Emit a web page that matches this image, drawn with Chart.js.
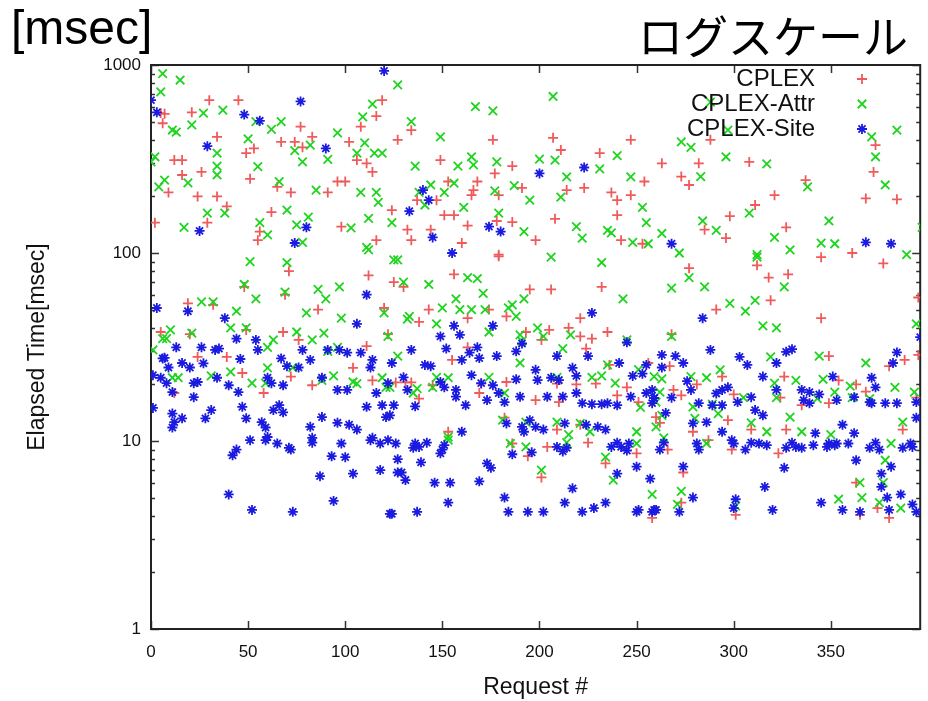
<!DOCTYPE html>
<html>
<head>
<meta charset="utf-8">
<script src="https://cdn.jsdelivr.net/npm/chart.js@4"></script>
<style>
  html, body { margin: 0; padding: 0; background: #fff; }
  #wrap { position: relative; width: 928px; height: 701px; }
  #unit { position: absolute; left: 11px; top: 0px; font: 48px "Liberation Sans", Arial, sans-serif; color: #000; }
  #scale { position: absolute; left: 638px; top: 2px; font: 45px "Noto Sans CJK JP", sans-serif; color: #000; }
</style>
</head>
<body>
<div id="wrap">
  <canvas id="grafico" width="928" height="701"></canvas>
  <div id="unit">[msec]</div>
  <div id="scale">ログスケール</div>
</div>
<script>
// series names and colours (gnuplot defaults)
const seriesNames = ["CPLEX", "CPLEX-Attr", "CPLEX-Site"];
const seriesColors = ["#f05a5a", "#1fd41f", "#1a1ae0"];

const xTicks = [0, 50, 100, 150, 200, 250, 300, 350];
const yTicks = [1, 10, 100, 1000];

// [request #, elapsed msec]
const cplex = [
  [30,650],[45,650],[21,560],[5,555],[7,550],[6,490],[34,415],[53,360],[49,340],[67,390],[74,390],[78,365],[83,415],[77,470],[12,312],[16,312],[16,260],[26,270],[51,248],[9,210],[24,200],[34,200],[39,177],[62,165],[65,225],[72,210],[91,210],[96,240],[100,240],[102,390],[106,312],[111,300],[116,535],[119,650],[108,470],[114,270],[2,145],[29,145],[56,130],[55,117],[98,138],[116,117],[124,169],[127,400],
  [134,450],[176,400],[207,410],[247,400],[211,353],[231,340],[149,312],[186,290],[177,265],[153,240],[168,240],[166,216],[165,203],[191,222],[223,222],[214,216],[254,240],[237,210],[240,191],[247,203],[179,203],[137,191],[147,191],[151,159],[156,159],[208,152],[240,159],[163,140],[186,146],[132,133],[134,117],[144,133],[160,113],[198,117],[178,148],[242,117],[253,112],[179,98],
  [373,375],[372,270],[282,300],[263,300],[308,305],[273,255],[277,230],[337,244],[321,203],[311,180],[368,195],[384,193],[298,157],[285,133],[296,120],[327,137],[361,100],[288,400],
  [71,80],[112,76],[125,70],[19,54],[69,60],[48,66],[32,53],[86,50],[120,51],[5,38],[20,37],[49,39],[68,38],[76,34.5],[111,32],[122,37],[24,28],[39,28],[47,23],[72,22],[104,24.5],[83,19.8],[58,18],[12,18],[114,21],[126,20.5],
  [179,96],[156,77],[232,66],[195,64],[206,64],[130,66],[143,50],[138,43],[163,45],[174,50],[183,46],[221,45],[215,40],[205,39],[193,38],[235,38],[221,36],[227,35],[201,34.5],[163,31.5],[155,27],[224,31],[236,25.4],[131,20.5],[134,20.5],[138,16.8],[145,19.8],[170,20.2],[183,20.6],[209,20.2],[219,20],[229,20.2],[245,19.3],[169,18],[198,16.5],[210,16.1],[240,17.5],[251,16.1],[182,13.3],[209,11.5],[221,12.2],[153,11.2],[186,9.7],
  [204,9.3],[194,8.3],[225,9.8],[201,6.4],[234,7.6],[250,8.6],[258,3.9],
  [277,83],[312,86],[318,74],[328,77],[345,95],[377,88],[319,56],[291,50],[345,45],[268,37],[349,28.3],[380,25],[388,27],[395,28.7],[395,58],[256,26],[267,25],[294,22],[326,22],[354,21],[363,20],[269,18.7],[273,17.5],[281,20],[300,17.7],[324,17],[335,15.5],[349,15.9],[368,18.3],[394,17],[260,13.4],[279,11.2],[297,12.9],[309,11.5],[327,11.5],[262,12.5],[287,10.1],[387,11.5],
  [273,4.7],[274,6.8],[363,6],[374,4.4],[380,3.9],[301,4.05],[365,4.05],[299,9],[323,8.6],[266,9]
];

const cplexAttr = [
  [6,900],[15,832],[5,720],[27,555],[37,576],[54,500],[67,500],[21,480],[11,451],[13,440],[62,455],[50,405],[34,340],[2,325],[0,305],[55,288],[34,290],[34,260],[7,244],[19,236],[4,225],[66,240],[85,216],[70,169],[81,155],[29,163],[38,163],[56,145],[17,137],[75,141],[60,125],[78,114],[96,435],[91,315],[78,305],[74,350],[82,375],[106,340],[110,385],[115,340],[119,340],[109,530],[114,620],[108,210],[116,210],[117,186],[112,153],[103,136],[111,107],[124,145],[127,783],
  [167,600],[176,570],[207,680],[134,500],[149,415],[165,325],[166,294],[136,290],[158,290],[178,305],[200,316],[208,312],[240,330],[231,280],[214,254],[247,254],[187,228],[144,230],[156,235],[151,210],[138,210],[141,180],[161,175],[177,214],[195,191],[211,198],[179,163],[253,175],[255,145],[192,130],[219,138],[222,120],[235,132],[237,128],[248,114],[256,112],
  [273,390],[278,365],[296,325],[317,298],[283,255],[338,225],[371,415],[384,450],[373,325],[378,230],[308,163],[284,148],[291,132],[263,127],[321,121],[349,148],[345,113],[352,112],[329,104],[312,98],[389,98],[397,137],[288,635],[297,451],
  [51,90],[70,89],[48,68],[69,62],[54,57],[26,55],[32,55],[44,49],[86,64],[97,66],[90,57],[98,45],[80,48],[120,48],[112,104],[127,92],[10,39],[6,35],[8,35],[21,37.5],[41,40],[49,40],[1,30.5],[60,31.5],[63,34.5],[75,38],[83,34.5],[89,37.5],[122,36],[41,23.3],[60,24.5],[11,21.7],[14,21.7],[31,22.2],[52,20.3],[59,20.3],[88,21],[94,22.2],[104,20.6],[106,20.2],[119,21.7],[121,19.3],[96,31.5],[73,24.6],[91,30],
  [125,92],[206,95],[232,89],[130,70],[143,68],[163,74],[168,73],[171,61],[157,57],[150,51],[159,50],[165,50],[172,50],[184,51],[186,53],[188,46],[192,57],[133,46],[132,44.5],[147,42],[174,38],[199,40],[190,36.7],[191,34],[202,36],[212,31],[216,36.7],[243,57],[245,34.5],[235,25.4],[127,28.3],[190,26],[209,21.8],[227,21.8],[232,22.2],[239,20.3],[251,24],[123,19.3],[137,19],[135,18],[145,19.3],[147,21.8],[153,21.7],[174,21.8],[182,18],[252,15.1],[262,18.2],[209,12.6],[221,12.4],[181,12.9],[215,10.8],[226,11.2],[250,11.2],[193,12.6],[153,10.5],[185,9.7],
  [153,10.1],[193,9.3],[201,7.0],[234,8.2],[238,6.2],[250,9.7],[258,5.2],[214,9.8],
  [272,100],[312,95],[277,74],[268,65],[285,66],[326,66],[298,54],[311,56],[306,49],[315,41],[322,40],[268,36],[319,28],[344,28.3],[368,26],[394,42],[259,22],[263,21.4],[293,23.9],[278,22],[286,21.7],[321,20.3],[332,21],[346,21.3],[360,19.6],[383,19.3],[393,18.2],[260,16.1],[279,15.2],[289,15.7],[305,17],[322,17],[343,16.8],[352,18.2],[361,17],[370,16.8],[263,13.7],[280,13.2],[292,14],[309,12.5],[329,13.4],[387,12.6],[260,11.9],[317,11.2],[335,11.2],[350,10.8],[264,10.4],[286,9.7],[381,9.7],
  [273,5.4],[354,4.9],[366,5.0],[375,4.7],[386,4.4],[378,7.9],[377,6],[365,6],[301,4.5],[271,4.6]
];

const cplexSite = [
  [120,930],[0,650],[3,560],[48,545],[56,505],[77,640],[29,370],[90,360],[25,131],[80,137],[74,113],
  [140,216],[143,191],[133,167],[145,121],[174,138],[180,130],[155,100],[200,265],[223,285],
  [268,112],[368,114],[381,112],
  [3,51],[19,49],[38,45],[44,35],[54,34.5],[13,31.5],[26,31.5],[33,30.5],[35,31],[6,27.5],[7,27.7],[16,26],[20,24.6],[9,24.6],[27,25.9],[46,27.3],[55,30.5],[67,27.5],[70,25],[76,24.6],[82,27],[78,30.5],[91,30.5],[97,30.5],[101,29.5],[108,29.5],[114,27],[113,24.6],[124,26],[111,60],[106,42],[1,22.4],[5,21.7],[8,20.3],[22,20.3],[24,20.6],[34,21.7],[40,19.8],[45,18.2],[60,21.7],[62,20.3],[68,19.8],[11,18.2],[22,17.1],[88,21.7],[96,18.7],[101,18.7],[116,18],[122,20.3],[1,15],[31,14.6],[28,13.2],[47,15.2],[49,13.2],[63,14.6],[66,15.5],[68,14.2],[12,12.6],[16,13.2],[11,11.8],[57,12.6],[59,11.8],[82,11.9],[88,13.4],[83,10.4],[96,12.5],[102,12.2],[106,11.5],[111,15.2],[119,15.5],[121,13.4],[114,10.4],[118,9.7],[122,10.1],[126,9.7],[98,9.7],[71,9.2],[44,9],[65,9.7],[60,10.5],[11,14],
  [42,8.4],[72,9],[93,8.3],[100,8.2],[87,6.5],[104,6.7],[118,7],[40,5.2],[52,4.3],[73,4.2],[94,4.8],[123,4.1],[127,8],[127,6.8],[51,10.1],[59,10.1],[83,9.8],[113,10.1],
  [227,48],[156,41],[176,41],[149,36],[134,30.5],[152,31],[159,36.7],[168,31.5],[164,29.5],[160,27],[169,27.6],[178,28.3],[188,30],[191,33],[141,25.4],[144,25],[209,28.3],[225,28.3],[217,24.5],[245,33.5],[255,25.4],[253,22.8],[248,22.2],[241,26],[130,21.8],[132,18.7],[149,20.6],[151,19.3],[157,18.7],[165,22.4],[170,20.3],[176,19.8],[179,18],[188,21.3],[198,23.9],[199,21.1],[206,21.7],[210,21.1],[219,22.2],[190,17.2],[182,16.1],[173,16.5],[204,17.2],[212,17.2],[219,18],[222,15.9],[227,15.7],[232,15.7],[235,15.9],[240,15.5],[247,17.2],[255,18],[259,16.9],[157,17.2],[162,15.5],[125,15.5],[136,15.3],[123,13.7],[183,12.4],[191,11.9],[195,12.9],[198,11.9],[202,11.5],[192,11.2],[213,12.4],[224,12.2],[230,11.9],[234,11.5],[240,9.8],[246,9.7],[160,11.2],[136,9.7],[142,9.8],[151,9.5],
  [135,9.2],[138,9.3],[149,8.6],[150,9],[139,7.7],[129,6.8],[131,6.2],[146,6],[154,6],[153,4.7],[169,6.1],[173,7.6],[175,7.2],[124,4.1],[137,4.2],[182,5],[184,4.2],[194,4.2],[202,4.2],[213,4.7],[217,5.6],[222,4.2],[228,4.4],[234,4.7],[250,4.2],[251,4.3],[259,4.3],[250,7.3],[240,6.7],[257,6.3],[186,8.5],[196,8.7],[209,9.3],[212,8.8],[214,9.2],[237,9.3],[242,9.3],[245,8.9],[262,9],
  [284,45],[288,30.5],[263,28.7],[270,28.3],[274,26],[263,24.6],[303,28],[307,25.4],[322,26],[327,29.8],[330,30.8],[315,22],[258,18.7],[259,16.9],[258,15.9],[268,17],[276,20.8],[278,18.7],[282,15.9],[291,17.9],[294,18.7],[297,19.3],[289,15.5],[294,15.5],[302,16.1],[309,17.1],[311,14.6],[315,13.7],[322,18.7],[335,18.7],[339,18.2],[344,17.7],[336,16.5],[339,15.9],[351,22],[353,16.5],[362,17.1],[370,16.1],[371,15.9],[378,15.9],[384,15.9],[371,21.7],[373,19.3],[384,29.6],[382,26],[394,16.1],[396,35.7],[394,13.3],[286,12.6],[294,11.2],[279,12.4],[265,14.1],[299,10.1],[300,9.7],[309,9.8],[313,9.7],[330,9.8],[342,11],[349,9.7],[353,9.7],[356,12.2],[362,11],[373,9.8],[391,9.7],[264,9.8],[281,9.7],
  [282,9],[306,9],[317,9.5],[327,9.2],[332,9.3],[335,9.2],[341,9.5],[348,9.3],[352,9.5],[359,9.7],[370,9.2],[375,9],[387,9.2],[392,9.3],[363,7.9],[274,7.3],[326,7.2],[376,6.7],[381,7.3],[316,5.7],[279,5.0],[376,5.7],[386,5.2],[379,5],[260,4.3],[258,4.2],[272,4.2],[301,4.9],[300,4.4],[320,4.3],[345,4.7],[356,4.3],[365,4.2],[380,4.3],[394,4.2],[392,4.6]
];

const seriesData = [cplex, cplexAttr, cplexSite];
const seriesStyles = ["cross", "crossRot", "star"];
const seriesRadius = [5, 6, 5];

const FONT = '"Liberation Sans", Arial, sans-serif';

// gnuplot-style frame, inward ticks (mirrored) and key in the top right corner
const marcoPlugin = {
  id: "marco",
  beforeDatasetsDraw(chart) {
    const { ctx, chartArea: a, scales: { x, y } } = chart;
    ctx.save();
    ctx.strokeStyle = "#333";
    ctx.lineWidth = 1.5;
    ctx.beginPath();
    xTicks.forEach(v => {
      const px = Math.round(x.getPixelForValue(v)) + 0.5;
      ctx.moveTo(px, a.bottom); ctx.lineTo(px, a.bottom - 8);
      ctx.moveTo(px, a.top); ctx.lineTo(px, a.top + 8);
    });
    for (let i = 0; i < yTicks.length; i++) {
      const d = yTicks[i];
      const py = Math.round(y.getPixelForValue(d)) + 0.5;
      ctx.moveTo(a.left, py); ctx.lineTo(a.left + 8, py);
      ctx.moveTo(a.right, py); ctx.lineTo(a.right - 8, py);
      if (i < yTicks.length - 1) {
        for (let k = 2; k <= 9; k++) {
          const pm = Math.round(y.getPixelForValue(d * k)) + 0.5;
          ctx.moveTo(a.left, pm); ctx.lineTo(a.left + 4, pm);
          ctx.moveTo(a.right, pm); ctx.lineTo(a.right - 4, pm);
        }
      }
    }
    ctx.stroke();
    ctx.lineWidth = 2;
    ctx.strokeStyle = "#222";
    ctx.strokeRect(a.left, a.top, a.right - a.left, a.bottom - a.top);
    ctx.restore();
  },
  afterDraw(chart) {
    const { ctx } = chart;
    ctx.save();
    ctx.font = "24px " + FONT;
    ctx.fillStyle = "#111";
    ctx.textAlign = "right";
    ctx.textBaseline = "middle";
    chart.data.datasets.forEach((ds, i) => {
      const yy = 79 + i * 25;
      ctx.fillText(ds.label, 815, yy);
      ctx.strokeStyle = ds.borderColor;
      ctx.lineWidth = 1.8;
      const r = seriesRadius[i];
      const cx = 862;
      ctx.beginPath();
      if (ds.pointStyle !== "crossRot") {
        ctx.moveTo(cx - r, yy); ctx.lineTo(cx + r, yy);
        ctx.moveTo(cx, yy - r); ctx.lineTo(cx, yy + r);
      }
      if (ds.pointStyle !== "cross") {
        const q = r * 0.707;
        ctx.moveTo(cx - q, yy - q); ctx.lineTo(cx + q, yy + q);
        ctx.moveTo(cx - q, yy + q); ctx.lineTo(cx + q, yy - q);
      }
      ctx.stroke();
    });
    ctx.restore();
  }
};

const datasets = seriesNames.map((name, i) => ({
  label: name,
  data: seriesData[i].map(([x, y]) => ({ x, y })),
  showLine: false,
  pointStyle: seriesStyles[i],
  pointRadius: seriesRadius[i],
  pointHoverRadius: seriesRadius[i],
  borderColor: seriesColors[i],
  backgroundColor: seriesColors[i],
  pointBorderWidth: 1.8,
  order: seriesNames.length - i
}));

new Chart(document.getElementById("grafico"), {
  type: "scatter",
  data: { datasets },
  plugins: [marcoPlugin],
  options: {
    responsive: false,
    animation: false,
    devicePixelRatio: 1,
    layout: { padding: { top: 65, right: 7, left: 0, bottom: 0 } },
    plugins: { legend: { display: false }, tooltip: { enabled: false } },
    scales: {
      x: {
        type: "linear",
        min: 0,
        max: 396,
        afterBuildTicks: s => { s.ticks = xTicks.map(v => ({ value: v })); },
        afterFit: s => { s.height = 72; },
        grid: { display: false, drawTicks: false },
        border: { display: false },
        ticks: { padding: 13, color: "#111", font: { family: FONT, size: 17 }, maxRotation: 0 },
        title: { display: true, text: "Request #", color: "#111", font: { family: FONT, size: 23 }, padding: { top: 0, bottom: 0 } }
      },
      y: {
        type: "logarithmic",
        min: 1,
        max: 1000,
        afterBuildTicks: s => { s.ticks = yTicks.map(v => ({ value: v })); },
        afterFit: s => { s.width = 151; },
        grid: { display: false, drawTicks: false },
        border: { display: false },
        ticks: { padding: 10, color: "#111", font: { family: FONT, size: 17 }, callback: v => String(v) },
        title: { display: true, text: "Elapsed Time[msec]", color: "#111", font: { family: FONT, size: 23 }, padding: { top: 24, bottom: 0 } }
      }
    }
  }
});
</script>
</body>
</html>
